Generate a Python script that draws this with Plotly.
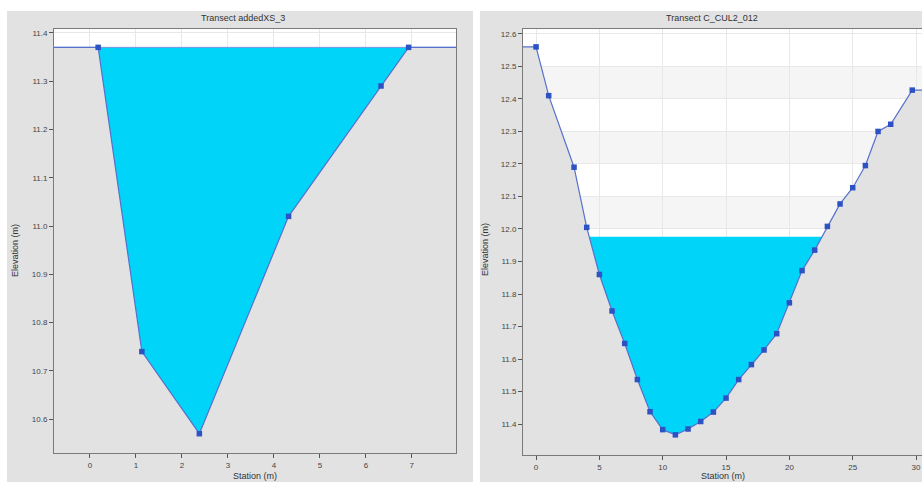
import numpy as np
import plotly.graph_objects as go

# ---------------- data ----------------
left_title = "Transect addedXS_3"
left_station = [0.18, 1.13, 2.38, 4.32, 6.33, 6.93]
left_elev = [11.37, 10.74, 10.57, 11.02, 11.29, 11.37]
left_water = 11.37

right_title = "Transect C_CUL2_012"
right_station = [0, 1, 3, 4, 5, 6, 7, 8, 9, 10, 11, 12, 13, 14, 15, 16, 17, 18,
                 19, 20, 21, 22, 23, 24, 25, 26, 27, 28, 29.7]
right_elev = [12.56, 12.41, 12.19, 12.005, 11.86, 11.748, 11.648, 11.537, 11.438,
              11.383, 11.367, 11.385, 11.408, 11.437, 11.48, 11.537, 11.583, 11.628,
              11.678, 11.773, 11.872, 11.935, 12.008, 12.077, 12.127, 12.195, 12.30,
              12.322, 12.427]
right_water = 11.976

x_label = "Station (m)"
y_label = "Elevation (m)"

# ---------------- styling ----------------
W, H = 922, 482
PANEL = "#e2e2e2"
GROUND = "#e2e2e2"
WATER = "#00d4f8"
LINE = "#5670cc"
MARK = "#2d52c4"
FONT = "Liberation Sans, Arial, sans-serif"

L_XR = [-0.78, 7.96]
L_YR = [10.53, 11.408]
R_XR = [-1.03, 30.47]
R_YR = [11.305, 12.615]


def px_x(p):
    return p / W


def px_y(p):
    return 1 - p / H


def water_poly(xs, ys, wl):
    px, py = [], []
    n = len(xs)
    for i in range(n - 1):
        x0, y0, x1, y1 = xs[i], ys[i], xs[i + 1], ys[i + 1]
        if y0 <= wl:
            px.append(x0); py.append(y0)
        if (y0 - wl) * (y1 - wl) < 0:
            xi = x0 + (wl - y0) * (x1 - x0) / (y1 - y0)
            px.append(xi); py.append(wl)
    if ys[-1] <= wl:
        px.append(xs[-1]); py.append(ys[-1])
    return px, py


fig = go.Figure()


def add_profile(xs, ys, wl, xr, xa, ya, surface_line):
    gx = [xr[0]] + list(xs) + [xr[1]]
    gy = [ys[0]] + list(ys) + [ys[-1]]
    # ground fill
    fig.add_trace(go.Scatter(x=gx, y=gy, mode="lines", fill="tozeroy",
                             fillcolor=GROUND, line=dict(width=0, color=GROUND),
                             xaxis=xa, yaxis=ya, hoverinfo="skip", showlegend=False))
    # water fill
    wx, wy = water_poly(xs, ys, wl)
    fig.add_trace(go.Scatter(x=wx, y=wy, mode="lines", fill="toself",
                             fillcolor=WATER, line=dict(width=0, color=WATER),
                             xaxis=xa, yaxis=ya, hoverinfo="skip", showlegend=False))
    if surface_line:
        fig.add_trace(go.Scatter(x=[xr[0], xr[1]], y=[wl, wl], mode="lines",
                                 line=dict(width=1, color="#7f95dd"),
                                 xaxis=xa, yaxis=ya, hoverinfo="skip", showlegend=False))
    # ground line (extended to edges)
    fig.add_trace(go.Scatter(x=gx, y=gy, mode="lines",
                             line=dict(width=1.2, color=LINE),
                             xaxis=xa, yaxis=ya, hoverinfo="skip", showlegend=False))
    # points
    fig.add_trace(go.Scatter(x=xs, y=ys, mode="markers",
                             marker=dict(symbol="square", size=5.5, color=MARK),
                             xaxis=xa, yaxis=ya, showlegend=False))


add_profile(left_station, left_elev, left_water, L_XR, "x", "y", True)
add_profile(right_station, right_elev, right_water, R_XR, "x2", "y2", False)

axis_common = dict(showline=True, mirror=True, linecolor="#7a7a7a", linewidth=1,
                   ticks="outside", ticklen=4, tickcolor="#555", zeroline=False,
                   showgrid=True, gridcolor="#e8e8e8", gridwidth=1,
                   tickfont=dict(family=FONT, size=8, color="#444"))

fig.update_layout(
    width=W, height=H,
    margin=dict(l=0, r=0, t=0, b=0),
    paper_bgcolor=PANEL,
    plot_bgcolor="white",
    showlegend=False,
    xaxis=dict(domain=[px_x(54), px_x(456)], range=L_XR, dtick=1, tick0=0,
               anchor="y", **axis_common),
    yaxis=dict(domain=[px_y(453), px_y(29)], range=L_YR, dtick=0.1, tick0=10.6,
               tickformat=".1f", anchor="x", **axis_common),
    xaxis2=dict(domain=[px_x(523), 1.0], range=R_XR, dtick=5, tick0=0,
                anchor="y2", **axis_common),
    yaxis2=dict(domain=[px_y(455), px_y(29)], range=R_YR, dtick=0.1, tick0=11.4,
                tickformat=".1f", anchor="x2", **axis_common),
)

white = dict(type="rect", xref="paper", yref="paper", fillcolor="white",
             line=dict(width=0), layer="below")
shapes = [
    dict(white, x0=0, x1=px_x(7), y0=0, y1=1),
    dict(white, x0=px_x(473), x1=px_x(480), y0=0, y1=1),
    dict(white, x0=0, x1=1, y0=px_y(11), y1=1),
]
# alternating light bands on right chart
for lo in [12.0, 12.2, 12.4]:
    shapes.append(dict(type="rect", xref="x2 domain", yref="y2", x0=0, x1=1,
                       y0=lo, y1=lo + 0.1, fillcolor="#f5f5f5",
                       line=dict(width=0), layer="below"))
fig.update_layout(shapes=shapes)

ann = dict(xref="paper", yref="paper", showarrow=False,
           font=dict(family=FONT, size=9, color="#333"))
fig.add_annotation(text=left_title, x=px_x(243), y=px_y(18), xanchor="center",
                   yanchor="middle", **ann)
fig.add_annotation(text=right_title, x=px_x(712), y=px_y(18), xanchor="center",
                   yanchor="middle", **ann)
fig.add_annotation(text=x_label, x=px_x(255), y=px_y(476), xanchor="center",
                   yanchor="middle", **ann)
fig.add_annotation(text=x_label, x=px_x(723), y=px_y(476), xanchor="center",
                   yanchor="middle", **ann)
fig.add_annotation(text=y_label, x=px_x(15), y=px_y(250), xanchor="center",
                   yanchor="middle", textangle=-90, **ann)
fig.add_annotation(text=y_label, x=px_x(485), y=px_y(250), xanchor="center",
                   yanchor="middle", textangle=-90, **ann)

fig.write_html("out.html", config={"displayModeBar": False},
               post_script="document.body.style.margin='0px';document.body.style.overflow='hidden';")
